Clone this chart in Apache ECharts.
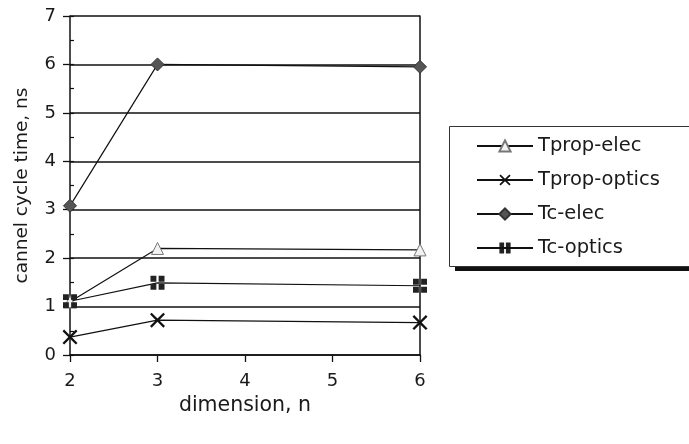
<!DOCTYPE html>
<html>
<head>
<meta charset="utf-8">
<script src="https://cdn.jsdelivr.net/npm/echarts@6/dist/echarts.min.js"></script>
<style>
  html, body { margin: 0; padding: 0; background: #fff; }
  #chart { width: 689px; height: 444px; }
</style>
</head>
<body>
<div id="chart"></div>
<script>
// Channel cycle time versus network dimension
const dimensions = [2, 3, 6];
const tpropElec = [1.1, 2.2, 2.17];
const tpropOptics = [0.37, 0.72, 0.67];
const tcElec = [3.08, 6.0, 5.95];
const tcOptics = [1.11, 1.49, 1.43];
const seriesNames = ['Tprop-elec', 'Tprop-optics', 'Tc-elec', 'Tc-optics'];
const xTicks = [2, 3, 4, 5, 6];
const yTicks = [0, 1, 2, 3, 4, 5, 6, 7];

const FONT = '"DejaVu Sans", Arial, sans-serif';
const INK = '#1a1a1a';
const pairs = vals => dimensions.map((d, i) => [d, vals[i]]);

const crossSymbol = 'path://M0,1.1L1.1,0L5,3.9L8.9,0L10,1.1L6.1,5L10,8.9L8.9,10L5,6.1L1.1,10L0,8.9L3.9,5Z';
const quadSymbol = 'path://M0,0h4.2v4.2h-4.2zM5.8,0h4.2v4.2h-4.2zM0,5.8h4.2v4.2h-4.2zM5.8,5.8h4.2v4.2h-4.2z';

const chart = echarts.init(document.getElementById('chart'));
chart.setOption({
  animation: false,
  backgroundColor: '#fff',
  grid: { left: 70, right: 269, top: 16, bottom: 89, containLabel: false },
  graphic: [
    // legend frame with heavy drop shadow
    { type: 'rect', shape: { x: 455, y: 132, width: 260, height: 139 }, style: { fill: '#111' }, z: 1 },
    { type: 'rect', shape: { x: 449.5, y: 126.5, width: 260, height: 140 }, style: { fill: '#fff', stroke: '#333', lineWidth: 1 }, z: 2 }
  ],
  legend: {
    data: seriesNames,
    orient: 'vertical',
    left: 471,
    top: 131,
    itemWidth: 56,
    itemHeight: 14,
    itemGap: 14,
    z: 5,
    textStyle: { fontFamily: FONT, fontSize: 19.5, color: INK }
  },
  xAxis: {
    type: 'value',
    min: 2, max: 6, interval: 1,
    name: 'dimension, n',
    nameLocation: 'middle',
    nameGap: 39,
    nameTextStyle: { fontFamily: FONT, fontSize: 20.5, color: INK },
    axisLine: { show: true, onZero: false, lineStyle: { color: '#111', width: 1.5 } },
    axisTick: { show: true, length: 7, lineStyle: { color: '#111', width: 1.3 } },
    axisLabel: { fontFamily: FONT, fontSize: 18, color: INK, margin: 17,
      formatter: v => xTicks.includes(v) ? String(v) : '' },
    splitLine: { show: false }
  },
  yAxis: [
    {
      type: 'value',
      min: 0, max: 7, interval: 1,
      name: 'cannel cycle time, ns',
      nameLocation: 'middle',
      nameGap: 38,
      nameTextStyle: { fontFamily: FONT, fontSize: 18.5, color: INK },
      axisLine: { show: true, lineStyle: { color: '#111', width: 1.5 } },
      axisTick: { show: true, length: 7, lineStyle: { color: '#111', width: 1.3 } },
      axisLabel: { fontFamily: FONT, fontSize: 18, color: INK, margin: 14,
        formatter: v => yTicks.includes(v) ? String(v) : '' },
      splitLine: { show: true, lineStyle: { color: '#111', width: 1.6 } }
    },
    {
      // half-unit inner ticks on the left axis
      type: 'value',
      position: 'left',
      min: 0, max: 7, interval: 0.5,
      axisLine: { show: false },
      axisTick: { show: true, inside: true, length: 4, lineStyle: { color: '#111', width: 1.2 } },
      axisLabel: { show: false },
      splitLine: { show: false }
    },
    {
      // right frame of the plot area
      type: 'value',
      position: 'right',
      min: 0, max: 7, interval: 1,
      axisLine: { show: true, lineStyle: { color: '#111', width: 1.5 } },
      axisTick: { show: false },
      axisLabel: { show: false },
      splitLine: { show: false }
    }
  ],
  series: [
    {
      name: seriesNames[0], type: 'line', data: pairs(tpropElec),
      symbol: 'triangle', symbolSize: 12,
      lineStyle: { color: '#111', width: 1.2 },
      itemStyle: { color: '#f2f2f2', borderColor: '#777', borderWidth: 1 },
      z: 3
    },
    {
      name: seriesNames[1], type: 'line', data: pairs(tpropOptics),
      symbol: crossSymbol, symbolSize: 15,
      lineStyle: { color: '#111', width: 1.2 },
      itemStyle: { color: '#111' },
      z: 3
    },
    {
      name: seriesNames[2], type: 'line', data: pairs(tcElec),
      symbol: 'diamond', symbolSize: 13,
      lineStyle: { color: '#111', width: 1.2 },
      itemStyle: { color: '#555', borderColor: '#333', borderWidth: 1 },
      z: 3
    },
    {
      name: seriesNames[3], type: 'line', data: pairs(tcOptics),
      symbol: quadSymbol, symbolSize: 14,
      lineStyle: { color: '#111', width: 1.2 },
      itemStyle: { color: '#222' },
      z: 3
    }
  ]
});
</script>
</body>
</html>
